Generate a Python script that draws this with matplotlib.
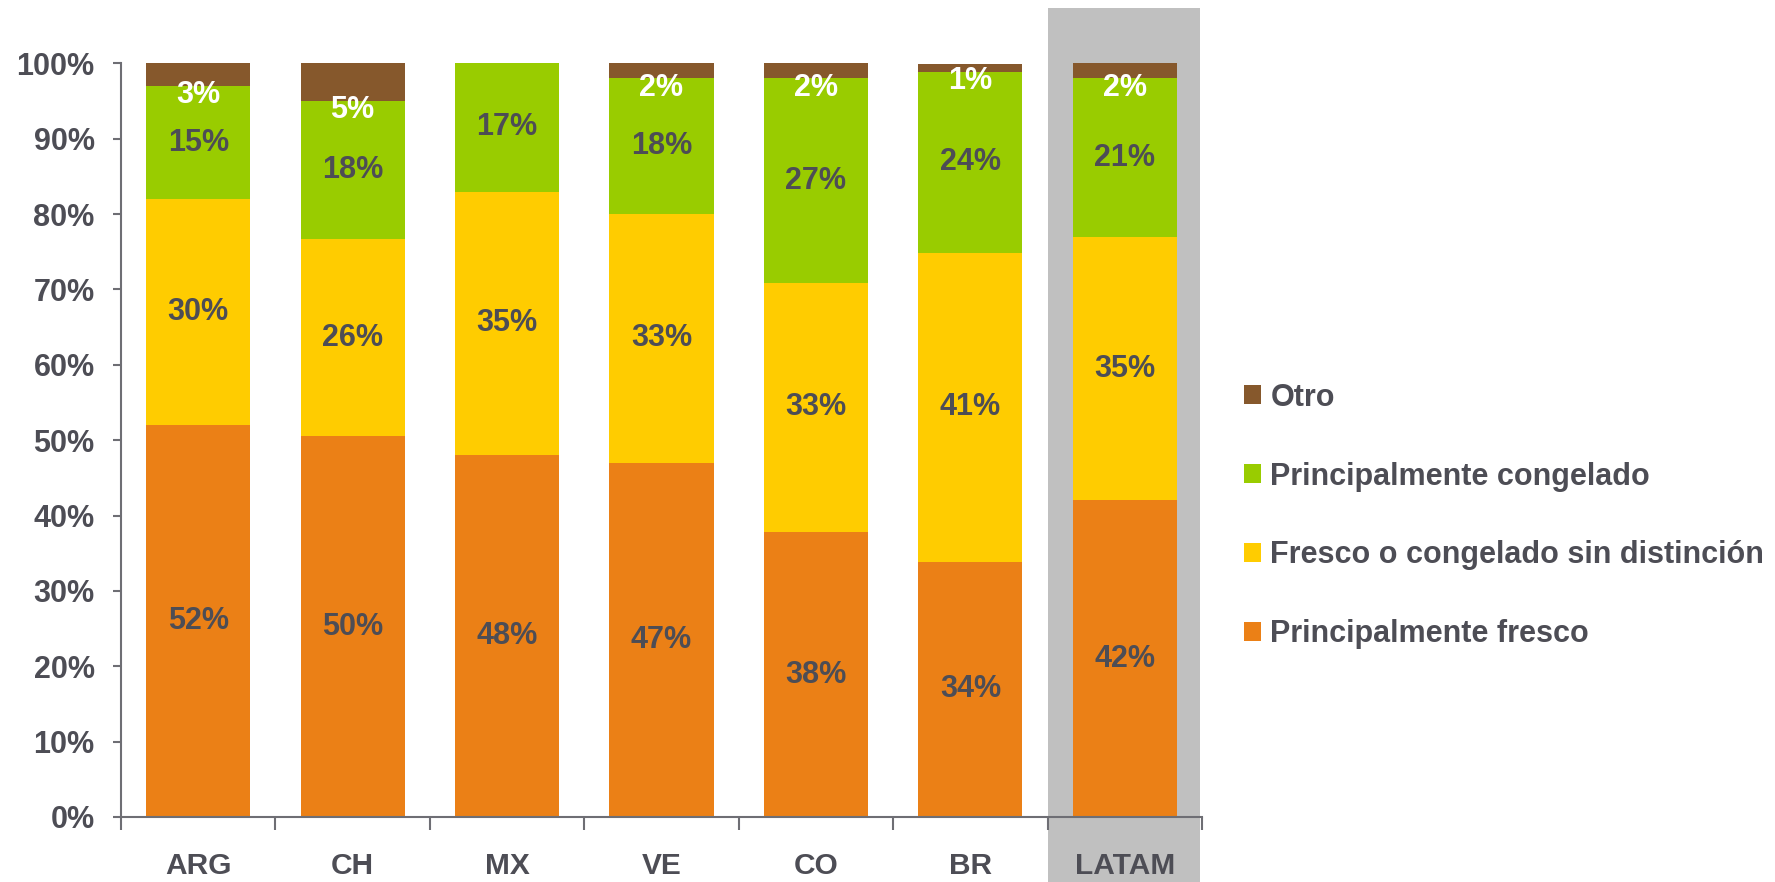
import matplotlib
matplotlib.use("Agg")
import matplotlib.pyplot as plt
from matplotlib.patches import Rectangle, Patch
import numpy as np

plt.rcParams['font.family'] = ['Liberation Sans', 'DejaVu Sans']
plt.rcParams['font.weight'] = 'bold'

# --- datos (porcentaje de cada país) ---
paises = ["ARG", "CH", "MX", "VE", "CO", "BR", "LATAM"]
fresco = [52.0, 50.5, 48.0, 47.0, 37.8, 33.9, 42.0]
sin_distincion = [30.0, 26.2, 35.0, 33.0, 33.1, 41.0, 34.9]
congelado = [15.0, 18.3, 17.0, 18.0, 27.1, 24.0, 21.1]
otro = [3.0, 5.0, 0.0, 2.0, 2.0, 1.0, 2.0]

series = ["Principalmente fresco", "Fresco o congelado sin distinción",
          "Principalmente congelado", "Otro"]
colores = ["#EB8016", "#FFCC00", "#99CC00", "#86582C"]
TXT = "#4D4D55"
GRIS = "#C0C0C0"

fig = plt.figure(figsize=(17.75, 8.82), dpi=100)
ax = fig.add_axes([121/1775, 1 - 817/882, (1202-121)/1775, (817-63.4)/882])

x = np.arange(len(paises))
ancho = 0.675

# caja gris detrás de LATAM
ax.add_patch(Rectangle((5.5, -8.6), 0.99, 107.3 + 8.6, facecolor=GRIS,
                       edgecolor='none', clip_on=False, zorder=0.5))

base = np.zeros(len(paises))
valores = [fresco, sin_distincion, congelado, otro]
for vals, nombre, col in zip(valores, series, colores):
    vals = np.array(vals)
    ax.bar(x, vals, ancho, bottom=base, color=col, label=nombre, zorder=2)
    for i, v in enumerate(vals):
        if v <= 0:
            continue
        if nombre == "Otro":
            # etiqueta blanca justo debajo del tramo
            ax.text(x[i], base[i] - 1.2, f"{v:.0f}%", ha='center', va='center',
                    color='white', fontsize=22, fontweight='bold', zorder=3)
        else:
            ax.text(x[i], base[i] + v / 2, f"{v:.0f}%", ha='center', va='center',
                    color=TXT, fontsize=22, fontweight='bold', zorder=3)
    base += vals

ax.set_xlim(-0.5, 6.5)
ax.set_ylim(0, 100)
ax.set_yticks(np.arange(0, 101, 10))
ax.set_yticklabels([f"{t}%" for t in range(0, 101, 10)])
ax.set_xticks(x)
ax.set_xticklabels(paises)
ax.set_xticks(np.arange(-0.5, 7, 1), minor=True)

for s in ['top', 'right']:
    ax.spines[s].set_visible(False)
for s in ['left', 'bottom']:
    ax.spines[s].set_color('#6E6E74')
    ax.spines[s].set_linewidth(1.5)

ax.tick_params(axis='y', length=6, width=1.5, color='#6E6E74', pad=13,
               labelsize=22, labelcolor=TXT)
ax.tick_params(axis='x', which='major', length=0, pad=25,
               labelsize=21.5, labelcolor=TXT)
ax.tick_params(axis='x', which='minor', length=9, width=1.5, color='#6E6E74')
for lbl in ax.get_xticklabels() + ax.get_yticklabels():
    lbl.set_fontweight('bold')

handles = [Patch(facecolor=c, edgecolor='none') for c in colores][::-1]
fig.legend(handles, series[::-1], loc='center left',
           bbox_to_anchor=(0.692, 0.415), frameon=False,
           handlelength=0.58, handleheight=0.58, handletextpad=0.3,
           labelspacing=1.6, borderpad=0, labelcolor=TXT,
           prop={'weight': 'bold', 'size': 22})

fig.savefig("out.png", dpi=100)
